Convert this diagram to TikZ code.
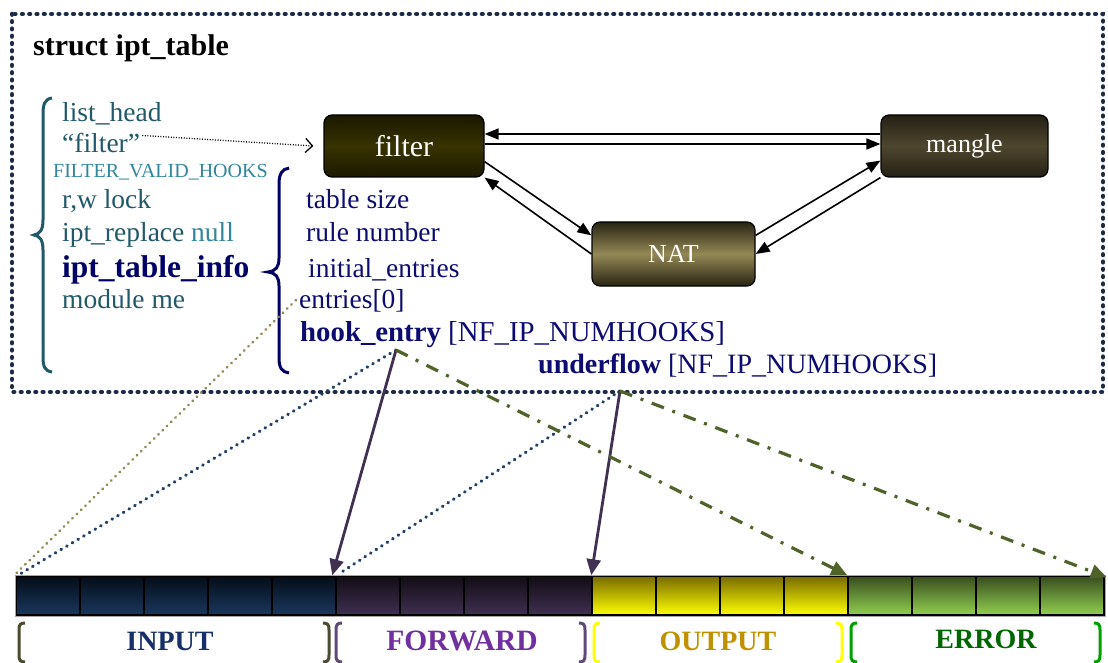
\documentclass[tikz,border=0pt]{standalone}
\usepackage{fontspec}
\setmainfont{Liberation Serif}
\usetikzlibrary{arrows.meta,calc}
\definecolor{tealA}{HTML}{215968}
\definecolor{tealB}{HTML}{31859C}
\definecolor{navyT}{HTML}{0C0C70}
\definecolor{navyB}{HTML}{000066}
\definecolor{frameC}{HTML}{1B2A47}
\definecolor{tanC}{HTML}{938953}
\definecolor{dnavy}{HTML}{1F3F66}
\definecolor{purp}{HTML}{403152}
\definecolor{oliveG}{HTML}{4F6228}
\definecolor{inpLab}{HTML}{17306A}
\definecolor{fwdLab}{HTML}{7030A0}
\definecolor{outLab}{HTML}{BF9000}
\definecolor{errLab}{HTML}{006600}
\definecolor{brI}{HTML}{4D4A2E}
\definecolor{brF}{HTML}{60497A}
\definecolor{brO}{HTML}{FFFF00}
\definecolor{brE}{HTML}{00A000}
\begin{document}
\begin{tikzpicture}[x=1pt,y=-1pt,
  txt/.style={anchor=base west, inner sep=0pt, font=\fontsize{27.5}{32}\selectfont},
  box/.style={draw=black, line width=1.2pt, rounded corners=8pt, text=white, inner sep=0pt},
  barrow/.style={draw=black, line width=1.6pt, -{Triangle[length=14pt,width=11pt]}},
  dotline/.style={line width=3.2pt, line cap=round, dash pattern=on 0.6pt off 6pt},
  tip/.style={-{Triangle[length=16pt,width=14pt]}},
  grp/.style={draw=black, line width=1.5pt, inner sep=0pt, minimum height=39pt},
  brk/.style={line width=3pt},
  lab/.style={anchor=base, inner sep=0pt, font=\bfseries\fontsize{28}{30}\selectfont}
]
\useasboundingbox (0,0) rectangle (1108,663);

% frame
\draw[frameC, line width=4.6pt, line cap=round, dash pattern=on 0.6pt off 6.7pt] (12,14) rectangle (1103,392);

\node[anchor=base west, inner sep=0pt, font=\bfseries\fontsize{30}{32}\selectfont] (title) at (33,56) {struct ipt\_table};

% left column
\node[txt, text=tealA] (lh) at (62,122) {list\_head};
\node[txt, text=tealA] (ffilt) at (62,153) {“filter”};
\node[txt, text=tealB, font=\fontsize{20}{22}\selectfont] (fvh) at (53,178) {FILTER\_VALID\_HOOKS};
\node[txt, text=tealA] (rw) at (62,208) {r,w lock};
\node[txt, text=tealA] (rep) at (62,241) {ipt\_replace \textcolor{tealB}{null}};
\node[txt, text=navyB, font=\bfseries\fontsize{31.5}{32}\selectfont] (info) at (62,277) {ipt\_table\_info};
\node[txt, text=tealA] (mod) at (62,308) {module me};

\draw[tealA, line width=3pt] (52,98) .. controls (45,99) and (43,104) .. (43,114) -- (43,220)
  .. controls (43,230) and (40,234) .. (34,235) .. controls (40,236) and (43,240) .. (43,250)
  -- (43,357) .. controls (43,367) and (45,371) .. (52,372);

\draw[navyB, line width=3pt] (289,168) .. controls (282,169) and (279,174) .. (279,184) -- (279,258)
  .. controls (279,267) and (276,271) .. (268,272) .. controls (276,273) and (279,277) .. (279,286)
  -- (279,358) .. controls (279,368) and (282,372) .. (289,373);

% navy column
\node[txt, text=navyT] (ts) at (306,209) {table size};
\node[txt, text=navyT] (rn) at (306,241) {rule number};
\node[txt, text=navyT] (ie) at (308,277) {initial\_entries};
\node[txt, text=navyT] (e0) at (299,308) {entries[0]};
\node[txt, text=navyT, font=\fontsize{28.8}{32}\selectfont] (he) at (300,341) {\textbf{hook\_entry} [NF\_IP\_NUMHOOKS]};
\node[txt, text=navyT, font=\fontsize{28}{32}\selectfont] (uf) at (538,373) {\textbf{underflow} [NF\_IP\_NUMHOOKS]};

% boxes
\node[box, minimum width=160pt, minimum height=62pt, top color={rgb,255:red,26;green,24;blue,0}, bottom color={rgb,255:red,26;green,24;blue,0}, middle color={rgb,255:red,56;green,51;blue,0}, font=\fontsize{30}{32}\selectfont] (filter) at (404,146) {filter};
\node[box, minimum width=167pt, minimum height=62pt, top color={rgb,255:red,36;green,32;blue,20}, bottom color={rgb,255:red,36;green,32;blue,20}, middle color={rgb,255:red,78;green,70;blue,46}, font=\fontsize{26}{30}\selectfont] (mangle) at (964.5,146) {mangle};
\node[box, minimum width=163pt, minimum height=64pt, top color={rgb,255:red,40;green,36;blue,18}, bottom color={rgb,255:red,40;green,36;blue,18}, middle color={rgb,255:red,148;green,136;blue,86}, font=\fontsize{26}{30}\selectfont] (nat) at (673.5,254) {NAT};

% box arrows
\draw[barrow] ($(mangle.west)+(0,-12)$) -- ($(filter.east)+(0,-12)$);
\draw[barrow] ($(filter.east)+(0,-2)$) -- ($(mangle.west)+(0,-2)$);
\draw[barrow] ($(filter.south east)+(0,-16)$) -- ($(nat.north west)+(0,14)$);
\draw[barrow] (nat.west) -- (filter.south east);
\draw[barrow] ($(nat.north east)+(0,14)$) -- ($(mangle.south west)+(0,-17)$);
\draw[barrow] (mangle.south west) -- (nat.east);

% dotted from "filter"
\draw[line width=1.3pt, dash pattern=on 1pt off 1.6pt, -{Straight Barb[length=7pt,width=14pt,line width=1.3pt]}] (ffilt.east) ++(2,-8) -- ($(filter.west)+(-10,0)$);

% bar
\node[grp, minimum width=320pt, top color={rgb,255:red,4;green,12;blue,22}, bottom color={rgb,255:red,26;green,56;blue,94}] (inp) at (176,595.5) {};
\node[grp, minimum width=256pt, top color={rgb,255:red,18;green,12;blue,20}, bottom color={rgb,255:red,64;green,48;blue,82}] (fwd) at (464,595.5) {};
\node[grp, minimum width=256pt, top color={rgb,255:red,120;green,106;blue,0}, bottom color={rgb,255:red,255;green,255;blue,0}] (out) at (720,595.5) {};
\node[grp, minimum width=256pt, top color={rgb,255:red,56;green,76;blue,30}, bottom color={rgb,255:red,146;green,208;blue,80}] (err) at (976,595.5) {};
\foreach \xx in {80,144,208,272,400,464,528,656,720,784,912,976,1040}{
  \draw[black, line width=1.5pt] (\xx,576) -- (\xx,615);
}
\draw[black!35, line width=0.8pt] (15,575) rectangle (1105,616);

% connectors
\coordinate (hk) at (396,350);
\coordinate (ufp) at (620,391);
\coordinate (e0p) at (296,300);
\draw[tanC, line width=2.6pt, line cap=round, dash pattern=on 0.6pt off 5.4pt] (e0p) -- ($(inp.north west)+(1,-2)$);
\draw[tanC, tip, draw=none] ($(inp.north west)+(2,-12)$) -- (inp.north west);
\draw[dnavy, dotline] (hk) -- ($(inp.north west)+(6,-2)$);
\draw[dnavy, tip, draw=none] ($(inp.north west)+(12,-9)$) -- ($(inp.north west)+(4,0)$);
\draw[purp, line width=2.8pt, tip] (hk) -- ($(fwd.north west)+(-3,0)$);
\draw[dnavy, dotline] (ufp) -- ($(fwd.north west)+(6,-3)$);
\draw[dnavy, tip, draw=none] ($(fwd.north west)+(12,-9)$) -- ($(fwd.north west)+(1,0)$);
\draw[purp, line width=2.8pt, tip] (ufp) -- (out.north west);
\draw[oliveG, line width=3.2pt, dash pattern=on 13pt off 9pt on 3pt off 9pt, -{Triangle[length=16pt,width=14pt]}] (hk) -- (err.north west);
\draw[oliveG, line width=3.2pt, dash pattern=on 13pt off 9pt on 3pt off 9pt, -{Triangle[length=16pt,width=14pt]}] (ufp) -- ($(err.north east)+(2,2)$);

% labels
\node[lab, text=inpLab] (linp) at (170,650) {INPUT};
\node[lab, text=fwdLab, font=\bfseries\fontsize{29.5}{30}\selectfont] (lfwd) at (462,650) {FORWARD};
\node[lab, text=outLab] (lout) at (718,650) {OUTPUT};
\node[lab, text=errLab] (lerr) at (986,648) {ERROR};

\foreach \xa/\col in {19/brI,336/brF,594/brO,851/brE}{
  \draw[\col, brk] (\xa+6,623) .. controls (\xa+1,623) and (\xa,625) .. (\xa,630) -- (\xa,655) .. controls (\xa,660) and (\xa+1,662) .. (\xa+6,662);
}
\foreach \xa/\col in {329/brI,585/brF,842/brO,1100/brE}{
  \draw[\col, brk] (\xa-6,623) .. controls (\xa-1,623) and (\xa,625) .. (\xa,630) -- (\xa,655) .. controls (\xa,660) and (\xa-1,662) .. (\xa-6,662);
}
\end{tikzpicture}
\end{document}
